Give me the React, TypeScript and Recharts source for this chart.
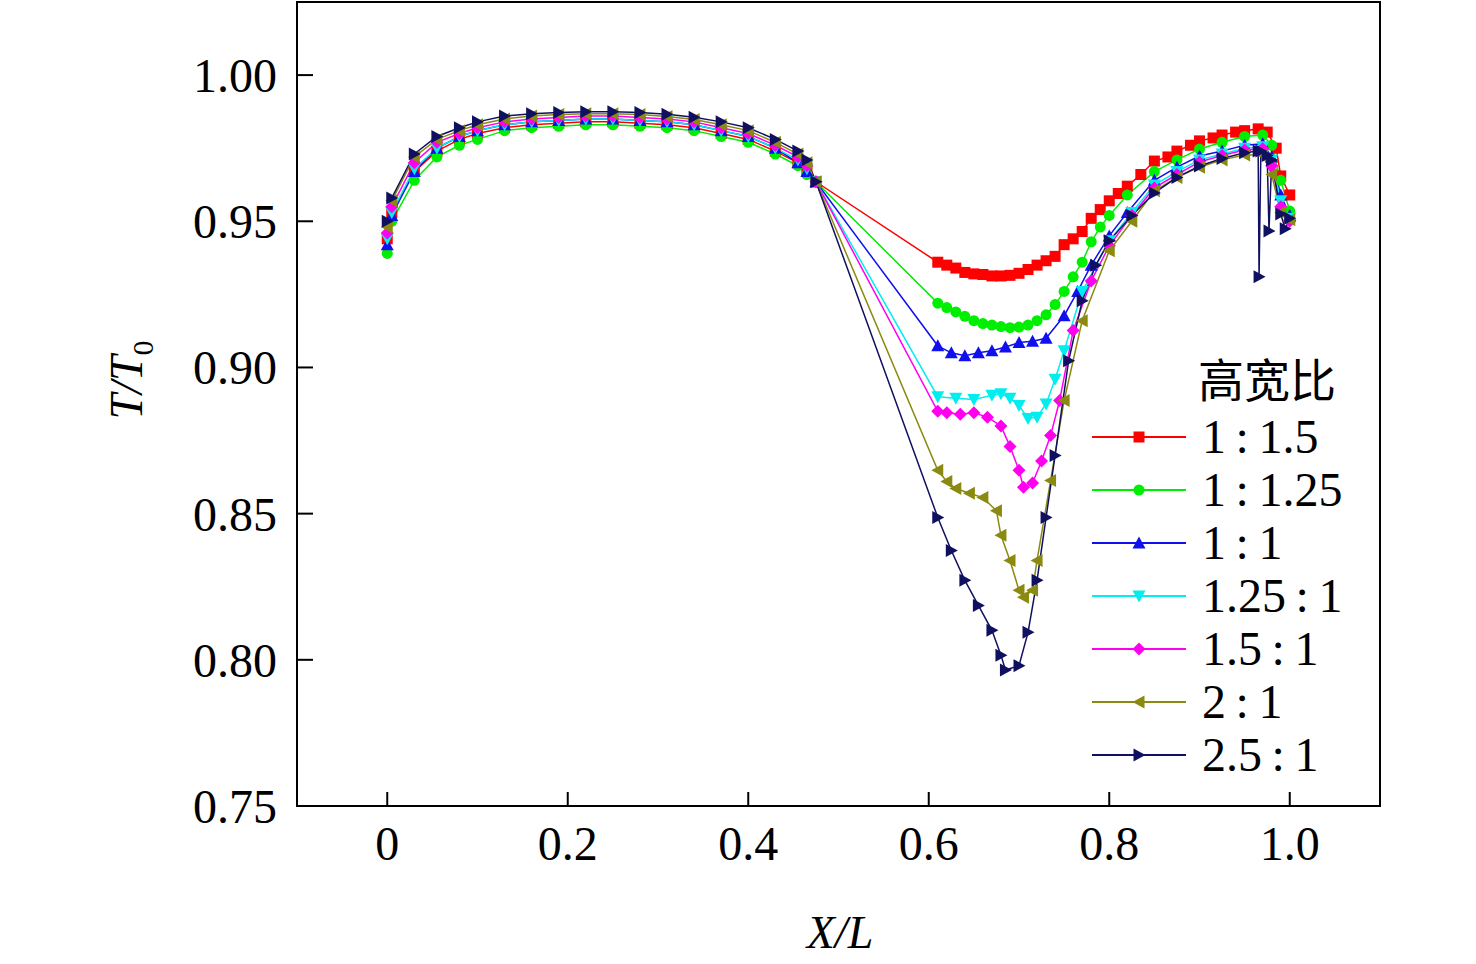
import React from 'react';
import { LineChart, Line, XAxis, YAxis } from 'recharts';

const xFront = [0, 0.005, 0.03, 0.055, 0.08, 0.1, 0.13, 0.16, 0.19, 0.22, 0.25, 0.28, 0.31, 0.34, 0.37, 0.4, 0.43, 0.455, 0.465, 0.475];
const fNavy = [0.950, 0.958, 0.973, 0.979, 0.982, 0.984, 0.986, 0.9868, 0.9872, 0.9875, 0.9875, 0.9872, 0.9866, 0.9856, 0.984, 0.982, 0.978, 0.974, 0.971, 0.9635];
const fOlive = [0.948, 0.957, 0.972, 0.978, 0.981, 0.983, 0.985, 0.986, 0.9865, 0.9868, 0.9868, 0.9865, 0.9858, 0.9848, 0.983, 0.981, 0.977, 0.973, 0.970, 0.9635];
const fMag = [0.946, 0.955, 0.970, 0.977, 0.980, 0.982, 0.984, 0.985, 0.9855, 0.986, 0.986, 0.9855, 0.985, 0.984, 0.982, 0.980, 0.976, 0.972, 0.969, 0.9635];
const fCyan = [0.944, 0.953, 0.968, 0.975, 0.979, 0.981, 0.983, 0.984, 0.9845, 0.985, 0.985, 0.9845, 0.984, 0.983, 0.981, 0.979, 0.975, 0.971, 0.968, 0.9635];
const fBlue = [0.942, 0.952, 0.967, 0.975, 0.979, 0.981, 0.983, 0.984, 0.9845, 0.985, 0.985, 0.9845, 0.984, 0.983, 0.981, 0.979, 0.975, 0.970, 0.967, 0.9635];
const fRed = [0.944, 0.953, 0.967, 0.974, 0.978, 0.980, 0.982, 0.983, 0.9835, 0.984, 0.984, 0.9835, 0.983, 0.982, 0.980, 0.978, 0.974, 0.970, 0.967, 0.9635];
const fGreen = [0.939, 0.950, 0.964, 0.972, 0.976, 0.978, 0.981, 0.982, 0.9825, 0.983, 0.983, 0.9825, 0.982, 0.981, 0.979, 0.977, 0.973, 0.969, 0.966, 0.9635];

const redX = [0.61, 0.62, 0.63, 0.64, 0.65, 0.66, 0.67, 0.68, 0.69, 0.70, 0.71, 0.72, 0.73, 0.74, 0.75, 0.76, 0.77, 0.78, 0.79, 0.8, 0.81, 0.82, 0.835, 0.85, 0.865, 0.875, 0.89, 0.9, 0.915, 0.925, 0.94, 0.95, 0.965, 0.975, 0.985, 0.99, 1.0];
const redY = [0.936, 0.935, 0.934, 0.9325, 0.932, 0.9318, 0.9313, 0.9313, 0.9315, 0.9322, 0.9335, 0.935, 0.9365, 0.938, 0.942, 0.944, 0.9465, 0.951, 0.954, 0.957, 0.9595, 0.962, 0.966, 0.9706, 0.972, 0.974, 0.976, 0.9775, 0.9785, 0.9795, 0.9805, 0.981, 0.9816, 0.9805, 0.975, 0.9655, 0.959];
const greenX = [0.61, 0.62, 0.63, 0.64, 0.65, 0.66, 0.67, 0.68, 0.69, 0.70, 0.71, 0.72, 0.73, 0.74, 0.75, 0.76, 0.77, 0.78, 0.79, 0.8, 0.82, 0.85, 0.875, 0.9, 0.925, 0.95, 0.97, 0.98, 0.99, 1.0];
const greenY = [0.922, 0.9205, 0.919, 0.9175, 0.916, 0.915, 0.9145, 0.914, 0.9136, 0.9138, 0.9145, 0.916, 0.918, 0.9215, 0.926, 0.931, 0.936, 0.943, 0.948, 0.952, 0.959, 0.967, 0.971, 0.9747, 0.977, 0.979, 0.9795, 0.976, 0.964, 0.9535];
const blueX = [0.61, 0.625, 0.64, 0.655, 0.67, 0.685, 0.70, 0.715, 0.73, 0.75, 0.765, 0.78, 0.8, 0.82, 0.85, 0.875, 0.9, 0.925, 0.95, 0.97, 0.98, 0.99, 1.0];
const blueY = [0.9074, 0.905, 0.904, 0.905, 0.9057, 0.907, 0.9085, 0.909, 0.91, 0.9177, 0.926, 0.935, 0.945, 0.953, 0.964, 0.9685, 0.9723, 0.974, 0.976, 0.9765, 0.972, 0.959, 0.952];
const cyanX = [0.61, 0.63, 0.65, 0.67, 0.68, 0.69, 0.70, 0.71, 0.72, 0.73, 0.74, 0.75, 0.77, 0.8, 0.825, 0.85, 0.875, 0.9, 0.925, 0.95, 0.97, 0.98, 0.99, 1.0];
const cyanY = [0.890, 0.8895, 0.889, 0.8905, 0.891, 0.8895, 0.887, 0.8825, 0.883, 0.8875, 0.896, 0.9057, 0.926, 0.9433, 0.953, 0.9624, 0.967, 0.971, 0.973, 0.975, 0.9755, 0.971, 0.957, 0.951];
const magX = [0.61, 0.62, 0.635, 0.65, 0.665, 0.68, 0.69, 0.70, 0.705, 0.715, 0.725, 0.735, 0.745, 0.76, 0.78, 0.8, 0.825, 0.85, 0.875, 0.9, 0.925, 0.95, 0.97, 0.98, 0.99, 1.0];
const magY = [0.885, 0.8845, 0.884, 0.8845, 0.883, 0.880, 0.873, 0.8648, 0.859, 0.8605, 0.868, 0.8767, 0.8887, 0.9126, 0.9296, 0.9416, 0.952, 0.9614, 0.966, 0.9703, 0.9725, 0.9744, 0.9748, 0.969, 0.955, 0.950];
const oliveX = [0.61, 0.62, 0.63, 0.645, 0.66, 0.675, 0.68, 0.69, 0.70, 0.705, 0.715, 0.72, 0.735, 0.75, 0.77, 0.8, 0.825, 0.85, 0.875, 0.9, 0.925, 0.95, 0.97, 0.98, 0.99, 1.0];
const oliveY = [0.8648, 0.861, 0.8586, 0.857, 0.8555, 0.851, 0.8426, 0.834, 0.8238, 0.8214, 0.8238, 0.834, 0.8613, 0.8887, 0.916, 0.9399, 0.950, 0.9604, 0.965, 0.9685, 0.971, 0.9727, 0.9727, 0.966, 0.953, 0.9505];
const navyX = [0.61, 0.625, 0.64, 0.655, 0.67, 0.68, 0.685, 0.70, 0.71, 0.72, 0.73, 0.74, 0.755, 0.77, 0.785, 0.8, 0.825, 0.85, 0.875, 0.9, 0.925, 0.95, 0.965, 0.966, 0.968, 0.975, 0.977, 0.98, 0.99, 0.995, 1.0];
const navyY = [0.8487, 0.8374, 0.8272, 0.8186, 0.8101, 0.8016, 0.7965, 0.798, 0.8094, 0.8272, 0.8487, 0.8699, 0.9023, 0.9228, 0.935, 0.9433, 0.952, 0.9597, 0.965, 0.9689, 0.9715, 0.9734, 0.974, 0.931, 0.974, 0.9725, 0.9467, 0.971, 0.9525, 0.9474, 0.951];

const build = (fy: number[], bx: number[], by: number[]) => [
  ...xFront.map((x, i) => ({ x, y: fy[i] })),
  ...bx.map((x, i) => ({ x, y: by[i] })),
];

const series = [
  { name: '1:1.5', color: '#ff0000', shape: 'square', data: build(fRed, redX, redY) },
  { name: '1:1.25', color: '#00ee00', shape: 'circle', data: build(fGreen, greenX, greenY) },
  { name: '1:1', color: '#1010ee', shape: 'up', data: build(fBlue, blueX, blueY) },
  { name: '1.25:1', color: '#00eeee', shape: 'down', data: build(fCyan, cyanX, cyanY) },
  { name: '1.5:1', color: '#ff00ee', shape: 'diamond', data: build(fMag, magX, magY) },
  { name: '2:1', color: '#8a8a10', shape: 'left', data: build(fOlive, oliveX, oliveY) },
  { name: '2.5:1', color: '#101060', shape: 'right', data: build(fNavy, navyX, navyY) },
];
const legendLabels = ['1\u2009:\u20091.5', '1\u2009:\u20091.25', '1\u2009:\u20091', '1.25\u2009:\u20091', '1.5\u2009:\u20091', '2\u2009:\u20091', '2.5\u2009:\u20091'];
const xTicks = [0, 0.2, 0.4, 0.6, 0.8, 1.0];
const yTicks = [0.75, 0.8, 0.85, 0.9, 0.95, 1.0];

function Marker({ cx, cy, shape, color }: any) {
  const s = 5.5;
  let p = '';
  if (shape === 'square') return <rect x={cx - s} y={cy - s} width={2 * s} height={2 * s} fill={color} />;
  if (shape === 'circle') return <circle cx={cx} cy={cy} r={s} fill={color} />;
  if (shape === 'up') p = `${cx},${cy - s - 1} ${cx - s - 1},${cy + s} ${cx + s + 1},${cy + s}`;
  if (shape === 'down') p = `${cx},${cy + s + 1} ${cx - s - 1},${cy - s} ${cx + s + 1},${cy - s}`;
  if (shape === 'diamond') p = `${cx},${cy - s - 1} ${cx + s + 1},${cy} ${cx},${cy + s + 1} ${cx - s - 1},${cy}`;
  if (shape === 'left') p = `${cx - s - 1},${cy} ${cx + s},${cy - s - 1} ${cx + s},${cy + s + 1}`;
  if (shape === 'right') p = `${cx + s + 1},${cy} ${cx - s},${cy - s - 1} ${cx - s},${cy + s + 1}`;
  return <polygon points={p} fill={color} />;
}

const font = '"Liberation Serif", "Times New Roman", serif';
const tickStyle = { fontSize: 48, fill: '#000', fontFamily: font };

export default function App() {
  return (
    <div style={{ position: 'absolute', left: 0, top: 0, width: 1476, height: 964, background: '#fff', fontFamily: font }}>
      <LineChart width={1476} height={964} margin={{ top: 2, right: 96, left: 0, bottom: 0 }}>
        <XAxis dataKey="x" type="number" domain={[-0.1, 1.1]} ticks={xTicks} allowDuplicatedCategory={false}
          tickFormatter={(v: number) => (v === 0 ? '0' : v.toFixed(1))} height={158} tick={tickStyle}
          tickSize={-14} tickLine={{ stroke: '#000', strokeWidth: 2 }} tickMargin={34} axisLine={{ stroke: '#000', strokeWidth: 2 }} />
        <YAxis type="number" domain={[0.75, 1.025]} ticks={yTicks} width={297} tick={tickStyle}
          tickFormatter={(v: number) => v.toFixed(2)} tickSize={-16} tickLine={{ stroke: '#000', strokeWidth: 2 }} tickMargin={36} axisLine={{ stroke: '#000', strokeWidth: 2 }} allowDataOverflow />
        {series.map((s) => (
          <Line key={s.name} data={s.data} dataKey="y" type="linear" stroke={s.color} strokeWidth={1.5}
            isAnimationActive={false}
            dot={(p: any) => <Marker key={`${s.name}-${p.index}`} cx={p.cx} cy={p.cy} shape={s.shape} color={s.color} />} />
        ))}
      </LineChart>
      <div style={{ position: 'absolute', left: 130, top: 380, transform: 'translate(-50%,-50%) rotate(-90deg)', fontSize: 46, fontStyle: 'italic', whiteSpace: 'nowrap' }}>
        T/T<sub style={{ fontSize: 30, fontStyle: 'normal' }}>0</sub>
      </div>
      <div style={{ position: 'absolute', left: 840, top: 932, transform: 'translate(-50%,-50%)', fontSize: 46, fontStyle: 'italic' }}>X/L</div>
      <div style={{ position: 'absolute', left: 1198, top: 348, fontSize: 46, fontFamily: '"Noto Sans CJK SC", sans-serif', lineHeight: '58px' }}>高宽比</div>
      <svg style={{ position: 'absolute', left: 0, top: 0, pointerEvents: 'none' }} width={1476} height={964}>
        <rect x={297} y={2} width={1083} height={804} fill="none" stroke="#000" strokeWidth={2} />
        {series.map((s, i) => {
          const y = 437 + i * 53;
          return (
            <g key={s.name}>
              <line x1={1092} x2={1186} y1={y} y2={y} stroke={s.color} strokeWidth={2} />
              <Marker cx={1139} cy={y} shape={s.shape} color={s.color} />
              <text x={1202} y={y + 16} fontSize={48} fontFamily={font} fill="#000">{legendLabels[i]}</text>
            </g>
          );
        })}
      </svg>
    </div>
  );
}
